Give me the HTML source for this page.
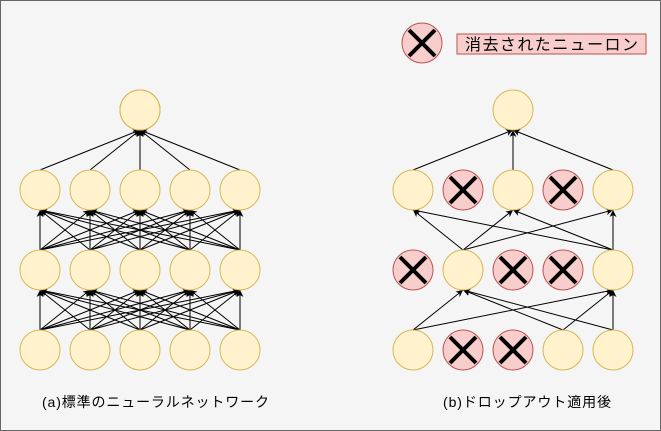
<!DOCTYPE html>
<html><head><meta charset="utf-8"><style>
html,body{margin:0;padding:0;background:#f5f5f5;}
svg{display:block;}
</style></head><body>
<svg id="s" width="661" height="431" xmlns="http://www.w3.org/2000/svg">
<defs><marker id="a" markerWidth="8" markerHeight="8" refX="7" refY="4" orient="auto" markerUnits="userSpaceOnUse"><path d="M0,0.5 L7,4 L0,7.5 L2,4 Z" fill="#000"/></marker></defs>
<rect x="0.5" y="0.5" width="660" height="430" fill="#f5f5f5" stroke="#666" stroke-width="1"/>
<g id="lines" stroke="#000" stroke-width="1" marker-end="url(#a)"></g>
<g id="nodes"></g>
<rect x="457" y="34" width="189" height="20" fill="#f8cecc" stroke="#b85450"/>
<text x="465" y="50" font-family="Liberation Sans, Noto Sans CJK JP, sans-serif" font-size="16" textLength="173" fill="#000">消去されたニューロン</text>
<text x="42" y="407" font-family="Liberation Sans, Noto Sans CJK JP, sans-serif" font-size="14" textLength="227" fill="#000">(a)標準のニューラルネットワーク</text>
<text x="443" y="407" font-family="Liberation Sans, Noto Sans CJK JP, sans-serif" font-size="14" textLength="168" fill="#000">(b)ドロップアウト適用後</text>
</svg>
<script>
var NS="http://www.w3.org/2000/svg";
var L=document.getElementById("lines"),N=document.getElementById("nodes");
function line(x1,y1,x2,y2){var l=document.createElementNS(NS,"line");l.setAttribute("x1",x1);l.setAttribute("y1",y1);l.setAttribute("x2",x2);l.setAttribute("y2",y2);L.appendChild(l);}
function node(x,y,drop){var c=document.createElementNS(NS,"circle");c.setAttribute("cx",x);c.setAttribute("cy",y);c.setAttribute("r",20);c.setAttribute("fill",drop?"#f8cecc":"#fff2cc");c.setAttribute("stroke",drop?"#b85450":"#d6b656");N.appendChild(c);
 if(drop){var p=document.createElementNS(NS,"path");var d=13;p.setAttribute("d","M"+(x-d)+","+(y-d)+"L"+(x+d)+","+(y+d)+"M"+(x+d)+","+(y-d)+"L"+(x-d)+","+(y+d));p.setAttribute("stroke","#000");p.setAttribute("stroke-width","4");N.appendChild(p);}}
var LX=[40,90,140,190,240],RX=[413,463,513,563,613],Y=[190,270,350];
LX.forEach(function(x){line(x,170,140,130);});
for(var r=1;r<3;r++)LX.forEach(function(s){LX.forEach(function(t){line(s,Y[r]-20,t,Y[r-1]+20);});});
LX.forEach(function(x){node(140,110,0);Y.forEach(function(y){node(x,y,0);});});
[413,513,613].forEach(function(x){line(x,170,513,130);});
[[463,413],[463,513],[463,613],[613,413],[613,513],[613,613]].forEach(function(e){line(e[0],250,e[1],210);});
[[413,463],[413,613],[563,463],[563,613],[613,463],[613,613]].forEach(function(e){line(e[0],330,e[1],290);});
node(513,110,0);
var drop=[[0,1,0,1,0],[1,0,1,1,0],[0,1,1,0,0]];
for(var r=0;r<3;r++)RX.forEach(function(x,i){node(x,Y[r],drop[r][i]);});
node(422,43,1);
</script>
</body></html>
